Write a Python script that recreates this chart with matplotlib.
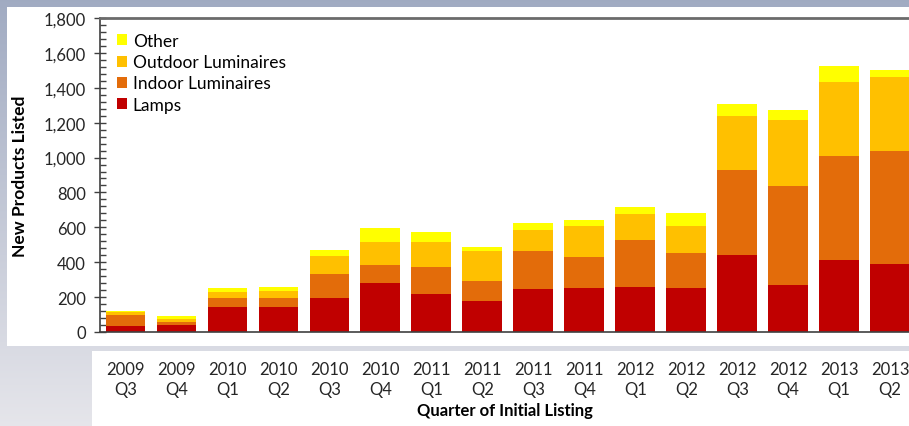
import numpy as np
import matplotlib
matplotlib.use("Agg")
import matplotlib.pyplot as plt
from matplotlib.patches import Rectangle, Patch
from matplotlib.ticker import MultipleLocator, FuncFormatter

plt.rcParams['font.family'] = ['Lato', 'DejaVu Sans']

quarters = ["2009\nQ3", "2009\nQ4", "2010\nQ1", "2010\nQ2", "2010\nQ3", "2010\nQ4",
            "2011\nQ1", "2011\nQ2", "2011\nQ3", "2011\nQ4", "2012\nQ1", "2012\nQ2",
            "2012\nQ3", "2012\nQ4", "2013\nQ1", "2013\nQ2"]
lamps = [36, 40, 145, 143, 195, 283, 216, 180, 245, 254, 260, 252, 441, 272, 415, 390]
indoor = [64, 20, 52, 50, 140, 103, 155, 110, 219, 174, 265, 203, 486, 565, 594, 647]
outdoor = [12, 14, 34, 42, 101, 132, 145, 172, 121, 179, 151, 152, 311, 376, 426, 427]
other = [10, 18, 21, 23, 34, 80, 57, 25, 38, 35, 42, 77, 71, 57, 89, 36]

series_names = ["Lamps", "Indoor Luminaires", "Outdoor Luminaires", "Other"]
series_colors = ["#C00000", "#E36C0A", "#FFC000", "#FFFF00"]

W, H = 909, 427
fig = plt.figure(figsize=(W / 100, H / 100), dpi=100)

# slide-style gradient background
bg = fig.add_axes([0, 0, 1, 1], zorder=-10)
top_c = np.array([0.63, 0.67, 0.76])
bot_c = np.array([0.90, 0.90, 0.92])
t = np.linspace(0, 1, 256)[:, None]
grad = top_c * (1 - t[..., None]) + bot_c * t[..., None]
grad = np.repeat(grad, 4, axis=1)
bg.imshow(grad, aspect="auto", extent=[0, 1, 0, 1])
bg.set_axis_off()

# white panels: chart area and category-label strip
fig.patches.append(Rectangle((7 / W, (H - 347) / H), (W - 7) / W, (347 - 8) / H,
                             transform=fig.transFigure, facecolor="white",
                             edgecolor="none", zorder=-5))
fig.patches.append(Rectangle((92 / W, 0), (W - 92) / W, (H - 352) / H,
                             transform=fig.transFigure, facecolor="white",
                             edgecolor="none", zorder=-5))

ax = fig.add_axes([100 / W, (H - 333) / H, (W - 100) / W, (333 - 19) / H])
ax.set_facecolor("none")

x = np.arange(len(quarters))
bottom = np.zeros(len(quarters))
for vals, name, col in zip([lamps, indoor, outdoor, other], series_names, series_colors):
    ax.bar(x, vals, width=0.78, bottom=bottom, color=col, label=name, zorder=2)
    bottom += np.array(vals)

ax.set_xlim(-0.5, 15.37)
ax.set_ylim(0, 1800)
ax.yaxis.set_major_locator(MultipleLocator(200))
ax.yaxis.set_minor_locator(MultipleLocator(40))
ax.yaxis.set_major_formatter(FuncFormatter(lambda v, p: f"{int(v):,}"))
ax.tick_params(axis="y", which="major", direction="inout", length=8, width=1,
               color="#404040", labelsize=12, labelcolor="#262626", pad=6)
ax.tick_params(axis="y", which="minor", direction="in", length=4, width=1, color="#404040")
ax.set_xticks(x)
ax.set_xticklabels(quarters, fontsize=12, color="#262626", linespacing=1.3)
ax.tick_params(axis="x", length=0, pad=21)

for s in ["left", "bottom"]:
    ax.spines[s].set_color("#404040")
    ax.spines[s].set_linewidth(1.2)
ax.spines["top"].set_color("#6b6b6b")
ax.spines["top"].set_linewidth(2)
ax.spines["right"].set_visible(False)

ax.set_ylabel("New Products Listed", fontsize=12.5, fontweight="bold", color="black")
ax.yaxis.set_label_coords(-72 / (W - 100), 0.5)
ax.set_xlabel("Quarter of Initial Listing", fontsize=12, fontweight="bold", color="black")
ax.xaxis.set_label_coords((505 - 100) / (W - 100), -(403 - 333) / (333 - 19))

handles = [Patch(facecolor=c, edgecolor="none") for c in series_colors[::-1]]
ax.legend(handles, series_names[::-1], loc="upper left",
          bbox_to_anchor=(117 / W, (H - 34) / H), bbox_transform=fig.transFigure,
          frameon=False, fontsize=12.5, handlelength=0.6, handleheight=0.6,
          handletextpad=0.3, labelspacing=0.3, borderpad=0, borderaxespad=0)

fig.savefig("out.png", dpi=100)
